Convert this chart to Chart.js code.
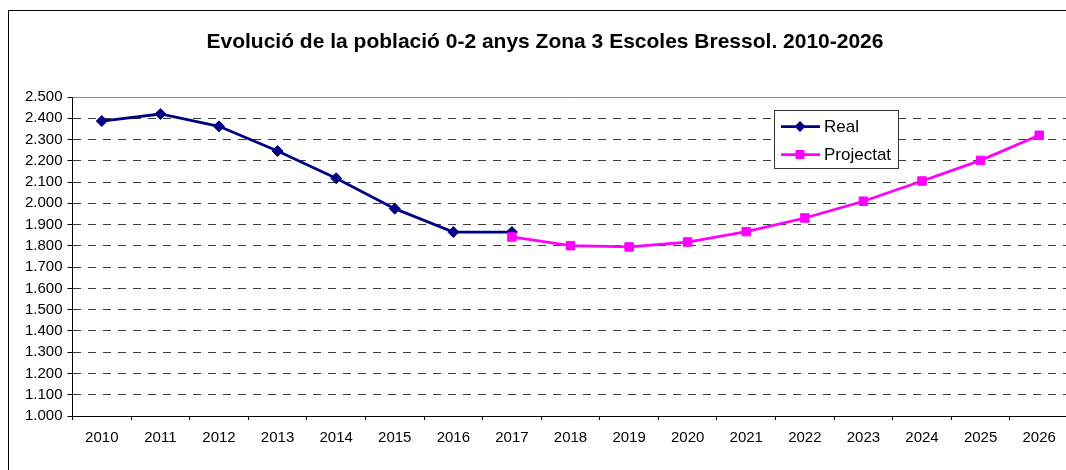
<!DOCTYPE html>
<html><head><meta charset="utf-8">
<script src="https://cdn.jsdelivr.net/npm/chart.js@4.4.0/dist/chart.umd.min.js"></script>
<style>
html,body{margin:0;padding:0;background:#fff;overflow:hidden;width:1066px;height:470px;}
#frame{position:absolute;left:8px;top:10px;width:1200px;height:600px;border-left:1px solid #000;border-top:1px solid #000;}
#wrap{position:absolute;left:0;top:0;width:1080px;height:470px;}
</style></head><body>
<div id="frame"></div>
<div id="wrap"><canvas id="c" width="1080" height="470"></canvas></div>
<script>
const titleText = 'Evolució de la població 0-2 anys Zona 3 Escoles Bressol. 2010-2026';
const years = ['2010','2011','2012','2013','2014','2015','2016','2017','2018','2019','2020','2021','2022','2023','2024','2025','2026'];
const realValues = [2387, 2420, 2362, 2246, 2118, 1975, 1865, 1865, null, null, null, null, null, null, null, null, null];
const projectatValues = [null, null, null, null, null, null, null, 1842, 1801, 1795, 1818, 1867, 1931, 2010, 2105, 2202, 2320];
const seriesNames = ['Real', 'Projectat'];
const yTickValues = [1000,1100,1200,1300,1400,1500,1600,1700,1800,1900,2000,2100,2200,2300,2400,2500];
const yTickLabels = ['1.000','1.100','1.200','1.300','1.400','1.500','1.600','1.700','1.800','1.900','2.000','2.100','2.200','2.300','2.400','2.500'];

const NAVY = '#000080', MAGENTA = '#FF00FF';
const FONT = '"Liberation Sans", Arial, sans-serif';

const decor = {
  id: 'decor',
  beforeDatasetsDraw(chart) {
    const {ctx, chartArea: a} = chart;
    ctx.save();
    ctx.strokeStyle = '#888';
    ctx.lineWidth = 1;
    ctx.beginPath();
    ctx.moveTo(a.left, Math.round(a.top) + 0.5);
    ctx.lineTo(a.right, Math.round(a.top) + 0.5);
    ctx.stroke();
    ctx.restore();
  },
  afterDraw(chart) {
    const ctx = chart.ctx;
    ctx.save();
    // title
    ctx.font = 'bold 21px ' + FONT;
    ctx.fillStyle = '#000';
    ctx.textAlign = 'center';
    ctx.textBaseline = 'alphabetic';
    ctx.fillText(titleText, 545, 48);
    // legend
    const bx = 774.5, by = 110.5, bw = 124, bh = 58;
    ctx.fillStyle = '#fff';
    ctx.fillRect(bx, by, bw, bh);
    ctx.strokeStyle = '#333';
    ctx.lineWidth = 1;
    ctx.strokeRect(bx, by, bw, bh);
    const rows = [
      {name: seriesNames[0], color: NAVY, y: 126.5, style: 'diamond'},
      {name: seriesNames[1], color: MAGENTA, y: 154.5, style: 'square'}
    ];
    rows.forEach(r => {
      ctx.strokeStyle = r.color;
      ctx.lineWidth = 2.75;
      ctx.beginPath();
      ctx.moveTo(781, r.y); ctx.lineTo(820, r.y);
      ctx.stroke();
      ctx.fillStyle = r.color;
      ctx.beginPath();
      if (r.style === 'diamond') {
        ctx.moveTo(800, r.y - 5.5); ctx.lineTo(805.5, r.y); ctx.lineTo(800, r.y + 5.5); ctx.lineTo(794.5, r.y);
        ctx.closePath(); ctx.fill();
      } else {
        ctx.fillRect(795.5, r.y - 4.5, 9, 9);
      }
      ctx.fillStyle = '#000';
      ctx.font = '17px ' + FONT;
      ctx.textAlign = 'left';
      ctx.textBaseline = 'middle';
      ctx.fillText(r.name, 824, r.y + 0.5);
    });
    ctx.restore();
  }
};

new Chart(document.getElementById('c'), {
  type: 'line',
  data: {
    labels: years,
    datasets: [
      {
        label: seriesNames[0], data: realValues, borderColor: NAVY, backgroundColor: NAVY,
        borderWidth: 2.75, pointStyle: 'rectRot', pointRadius: 5.5, pointBorderWidth: 1,
        pointBackgroundColor: NAVY, pointBorderColor: NAVY, tension: 0, spanGaps: false, order: 2
      },
      {
        label: seriesNames[1], data: projectatValues, borderColor: MAGENTA, backgroundColor: MAGENTA,
        borderWidth: 2.75, pointStyle: 'rect', pointRadius: 6, pointBorderWidth: 1,
        pointBackgroundColor: MAGENTA, pointBorderColor: MAGENTA, tension: 0, spanGaps: false, order: 1
      }
    ]
  },
  options: {
    responsive: false,
    animation: false,
    events: [],
    layout: { padding: { left: 0, right: 11.5, top: 97, bottom: 24 } },
    plugins: { legend: { display: false }, title: { display: false }, tooltip: { enabled: false } },
    scales: {
      x: {
        type: 'category',
        offset: true,
        afterFit(scale) { scale.height = 30; },
        grid: { display: true, drawOnChartArea: false, drawTicks: true, tickLength: 4, tickColor: '#000', offset: true },
        border: { display: true, color: '#000', width: 1 },
        ticks: { color: '#000', font: { family: FONT, size: 15 }, padding: 9, maxRotation: 0, autoSkip: false }
      },
      y: {
        min: 1000, max: 2500,
        afterFit(scale) { scale.width = 72.5; },
        afterBuildTicks(scale) { scale.ticks = yTickValues.map(v => ({ value: v })); },
        grid: {
          color: (c) => (c.tick && c.tick.value === 2500) ? 'rgba(0,0,0,0)' : '#3c3c3c',
          lineWidth: 1, drawTicks: true, tickLength: 5, tickColor: '#000', tickBorderDash: []
        },
        border: { display: true, color: '#000', width: 1, dash: [8, 7] },
        ticks: {
          color: '#000', font: { family: FONT, size: 15 }, padding: 5,
          callback: (v) => { const i = yTickValues.indexOf(v); return i >= 0 ? yTickLabels[i] : ''; }
        }
      }
    }
  },
  plugins: [decor]
});
</script>
</body></html>
